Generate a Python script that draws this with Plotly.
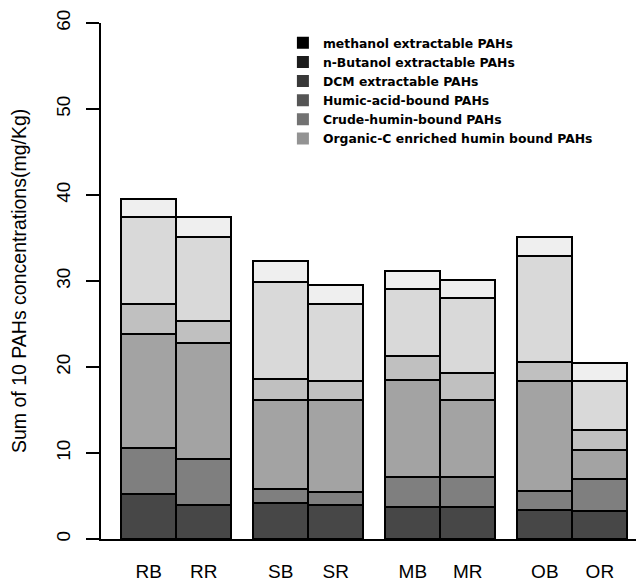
import plotly.graph_objects as go

categories = ["RB", "RR", "SB", "SR", "MB", "MR", "OB", "OR"]
series_names = [
    "methanol extractable PAHs",
    "n-Butanol extractable PAHs",
    "DCM extractable PAHs",
    "Humic-acid-bound PAHs",
    "Crude-humin-bound PAHs",
    "Organic-C enriched humin bound PAHs",
]
methanol = [5.25, 3.97, 4.20, 3.97, 3.73, 3.73, 3.39, 3.31]
butanol = [5.29, 5.38, 1.63, 1.47, 3.45, 3.45, 2.24, 3.68]
dcm = [13.28, 13.43, 10.29, 10.68, 11.34, 8.94, 12.70, 3.32]
humic = [3.52, 2.55, 2.51, 2.24, 2.71, 3.18, 2.24, 2.40]
crude_humin = [10.07, 9.76, 11.23, 8.98, 7.85, 8.70, 12.38, 5.62]
orgc_humin = [2.12, 2.32, 2.47, 2.21, 2.13, 2.17, 2.21, 2.13]
series_values = [methanol, butanol, dcm, humic, crude_humin, orgc_humin]
y_ticks = [0, 10, 20, 30, 40, 50, 60]

bar_colors = ["#474747", "#7f7f7f", "#a3a3a3", "#c0c0c0", "#d9d9d9", "#efefef"]
legend_colors = ["#000000", "#1c1c1c", "#383838", "#555555", "#727272", "#939393"]

# bar centres: unit-wide bars, pairs adjacent, 0.4 gap before each pair
group_gap = 0.4
xpos = [i + group_gap * (i // 2 + 1) + 0.5 for i in range(len(categories))]

fig = go.Figure()
for name, vals, col in zip(series_names, series_values, bar_colors):
    fig.add_trace(go.Bar(
        x=xpos, y=vals, width=1.0, name=name, showlegend=False,
        marker=dict(color=col, line=dict(color="black", width=2)),
        hovertemplate="%{y}<extra>" + name + "</extra>",
    ))
for name, col in zip(series_names, legend_colors):
    fig.add_trace(go.Bar(
        x=[None], y=[None], name=name, showlegend=True,
        marker=dict(color=col, line=dict(width=0)),
    ))

# page body has an 8px default margin: figure is 636x575 inside the 644x583 view
W, H = 636, 575
L, R_, T, B = 93, 0, 14.7, 43.5
PW, PH = W - L - R_, H - T - B
fig.update_layout(
    width=W, height=H,
    margin=dict(l=L, r=R_, t=T, b=B, pad=0),
    barmode="stack",
    plot_bgcolor="white", paper_bgcolor="white",
    font=dict(family="Liberation Sans, Arial, sans-serif", color="black", size=19),
    showlegend=True,
    legend=dict(
        x=0.335, y=1.0 - (20 - T) / PH, xanchor="left", yanchor="top",
        traceorder="normal", bgcolor="rgba(0,0,0,0)",
        font=dict(family="DejaVu Sans, sans-serif", size=12.4, color="black",
                  weight="bold"),
        itemwidth=30,
    ),
    annotations=[dict(
        text="Sum of 10 PAHs concentrations(mg/Kg)", textangle=-90,
        xref="paper", yref="paper", x=(11 - L) / PW, y=0.5,
        xanchor="center", yanchor="middle", showarrow=False,
        font=dict(size=19.5, family="Liberation Sans, Arial, sans-serif"),
    )],
)
fig.update_xaxes(
    range=[0.032, 9.9025], tickvals=xpos, ticktext=categories,
    showline=True, linecolor="black", linewidth=2,
    ticks="", showgrid=False, zeroline=False, automargin=False,
    ticklabelstandoff=14, tickfont=dict(size=19),
)
fig.update_yaxes(
    range=[0, 60], tickvals=y_ticks, ticktext=[str(v) for v in y_ticks],
    showline=True, linecolor="black", linewidth=2,
    ticks="outside", ticklen=13, tickwidth=2, tickcolor="black",
    tickangle=-90, showgrid=False, zeroline=False, automargin=False,
    ticklabelstandoff=8, tickfont=dict(size=19),
)
fig.write_html("out.html")
